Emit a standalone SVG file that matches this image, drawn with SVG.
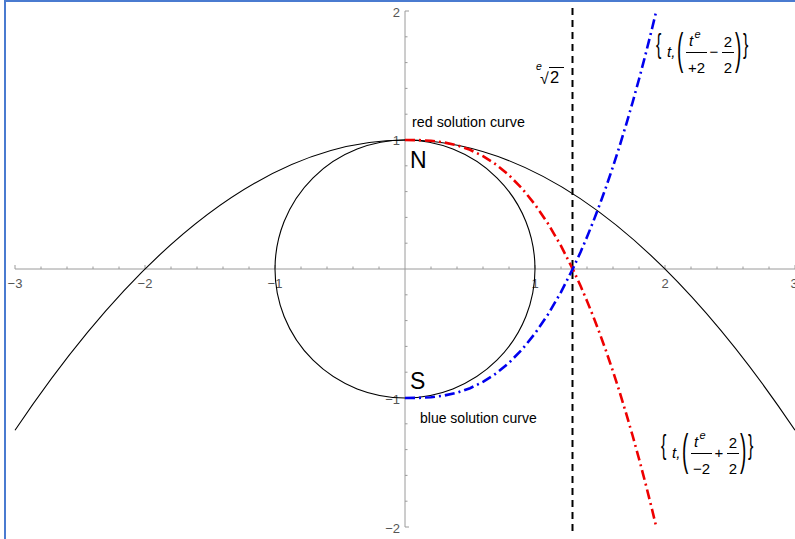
<svg xmlns="http://www.w3.org/2000/svg" width="795" height="539" viewBox="0 0 795 539">
<style>
.ax{stroke:#9a9a9a;stroke-width:1;fill:none}
.tl{font-family:"Liberation Sans",Arial,sans-serif;font-size:13px;fill:#555}
.lbl{font-family:"Liberation Sans",Arial,sans-serif;fill:#000}
.m{font-family:"Liberation Sans",Arial,sans-serif;fill:#000}
.n{font-size:15px}
.sup{font-size:11px;font-style:italic}
.br{font-size:16px}
.pr{font-size:19px}
.mi{font-style:italic}
.bar{stroke:#000;stroke-width:1}
.blk{stroke:#000;stroke-width:1.1;fill:none}
</style>
<rect width="795" height="539" fill="#fff"/>
<g id="frame">
<line x1="5" y1="0" x2="5" y2="539" stroke="#4a7bd0" stroke-width="2"/>
<line x1="4" y1="1" x2="795" y2="1" stroke="#4a7bd0" stroke-width="2"/>
</g>
<g id="axes">
<line class="ax" x1="15" y1="269" x2="795" y2="269"/>
<line class="ax" x1="405" y1="11" x2="405" y2="527"/>
<path class="ax" d="M15 269v-4M145 269v-4M275 269v-4M535 269v-4M665 269v-4M795 269v-4
M41 269v-2.5M67 269v-2.5M93 269v-2.5M119 269v-2.5M171 269v-2.5M197 269v-2.5M223 269v-2.5M249 269v-2.5M301 269v-2.5M327 269v-2.5M353 269v-2.5M379 269v-2.5M431 269v-2.5M457 269v-2.5M483 269v-2.5M509 269v-2.5M561 269v-2.5M587 269v-2.5M613 269v-2.5M639 269v-2.5M691 269v-2.5M717 269v-2.5M743 269v-2.5M769 269v-2.5
M405 11h4M405 140h4M405 398h4M405 527h4
M405 36.8h2.5M405 62.6h2.5M405 88.4h2.5M405 114.2h2.5M405 165.8h2.5M405 191.6h2.5M405 217.4h2.5M405 243.2h2.5M405 294.8h2.5M405 320.6h2.5M405 346.4h2.5M405 372.2h2.5M405 423.8h2.5M405 449.6h2.5M405 475.4h2.5M405 501.2h2.5"/>
<g class="tl" text-anchor="middle">
<text x="15" y="288">−3</text>
<text x="145" y="288">−2</text>
<text x="275" y="288">−1</text>
<text x="535" y="288">1</text>
<text x="665" y="288">2</text>
<text x="794" y="288">3</text>
</g>
<g class="tl" text-anchor="end">
<text x="400" y="17">2</text>
<text x="400" y="145">1</text>
<text x="400" y="404">−1</text>
<text x="400" y="533">−2</text>
</g>
</g>
<g id="curves">
<path id="parabola" class="blk" d="M15 430.25Q405 -150.25 795 430.25"/>
<ellipse id="circle" class="blk" cx="405" cy="269" rx="130" ry="129"/>
<line id="root-line" x1="572.5" y1="8" x2="572.5" y2="531" stroke="#000" stroke-width="2" stroke-dasharray="7 5"/>
<polyline id="red-curve" fill="none" stroke="#e00" stroke-width="2.6" stroke-dasharray="10 4 2 4" points="405,140 418,140.12 431,140.81 444,142.44 457,145.34 470,149.8 483,156.09 496,164.46 509,175.16 522,188.44 535,204.5 548,223.58 561,245.88 574,271.61 580.5,285.83 587,300.98 593.5,317.09 600,334.19 606.5,352.29 613,371.43 619.5,391.63 626,412.9 632.5,435.26 639,458.74 645.5,483.39 652,509.21 656.3,527"/>
<polyline id="blue-curve" fill="none" stroke="#00e" stroke-width="2.6" stroke-dasharray="10 4 2 4" points="405,398 418,397.88 431,397.19 444,395.56 457,392.66 470,388.2 483,381.91 496,373.54 509,362.84 522,349.56 535,333.5 548,314.42 561,292.12 574,266.39 580.5,252.17 587,237.02 593.5,220.91 600,203.81 606.5,185.71 613,166.57 619.5,146.37 626,125.1 632.5,102.74 639,79.26 645.5,54.61 652,28.79 656.3,11"/>
</g>
<g id="label-red" class="lbl"><text x="412" y="127" font-size="14.3">red solution curve</text></g>
<g id="label-blue" class="lbl"><text x="420" y="423" font-size="14">blue solution curve</text></g>
<g id="label-N" class="lbl"><text x="410" y="168" font-size="23">N</text></g>
<g id="label-S" class="lbl"><text x="410" y="389" font-size="23">S</text></g>
<g id="label-root" class="lbl">
<text x="536" y="70" font-size="10.5" font-style="italic">e</text>
<text x="540" y="84" font-size="16">√</text>
<line x1="549" y1="67.5" x2="564" y2="67.5" stroke="#000" stroke-width="1"/>
<text x="550" y="83" font-size="16.5">2</text>
</g>
<g id="label-blue-formula">
<text class="m br" transform="translate(656 53) scale(1 1.7)">{</text>
<text class="m n mi" x="667" y="57">t,</text>
<text class="m pr" transform="translate(677 63.8) scale(1 2.3)">(</text>
<text class="m n mi" x="689" y="46">t</text>
<text class="m sup" x="694.5" y="38">e</text>
<line class="bar" x1="686" y1="52.5" x2="707" y2="52.5"/>
<text class="m n" x="696.5" y="73" text-anchor="middle">+2</text>
<text class="m n" x="714" y="57" text-anchor="middle">−</text>
<text class="m n" x="728" y="47" text-anchor="middle">2</text>
<line class="bar" x1="722" y1="52.5" x2="734" y2="52.5"/>
<text class="m n" x="728" y="73" text-anchor="middle">2</text>
<text class="m pr" transform="translate(735 63.8) scale(1 2.3)">)</text>
<text class="m br" transform="translate(743 53) scale(1 1.7)">}</text>
</g>
<g id="label-red-formula" transform="translate(5 401)">
<text class="m br" transform="translate(656 53) scale(1 1.7)">{</text>
<text class="m n mi" x="667" y="57">t,</text>
<text class="m pr" transform="translate(677 63.8) scale(1 2.3)">(</text>
<text class="m n mi" x="689" y="46">t</text>
<text class="m sup" x="694.5" y="38">e</text>
<line class="bar" x1="686" y1="52.5" x2="707" y2="52.5"/>
<text class="m n" x="696.5" y="73" text-anchor="middle">−2</text>
<text class="m n" x="714" y="57" text-anchor="middle">+</text>
<text class="m n" x="728" y="47" text-anchor="middle">2</text>
<line class="bar" x1="722" y1="52.5" x2="734" y2="52.5"/>
<text class="m n" x="728" y="73" text-anchor="middle">2</text>
<text class="m pr" transform="translate(735 63.8) scale(1 2.3)">)</text>
<text class="m br" transform="translate(743 53) scale(1 1.7)">}</text>
</g>
</svg>
